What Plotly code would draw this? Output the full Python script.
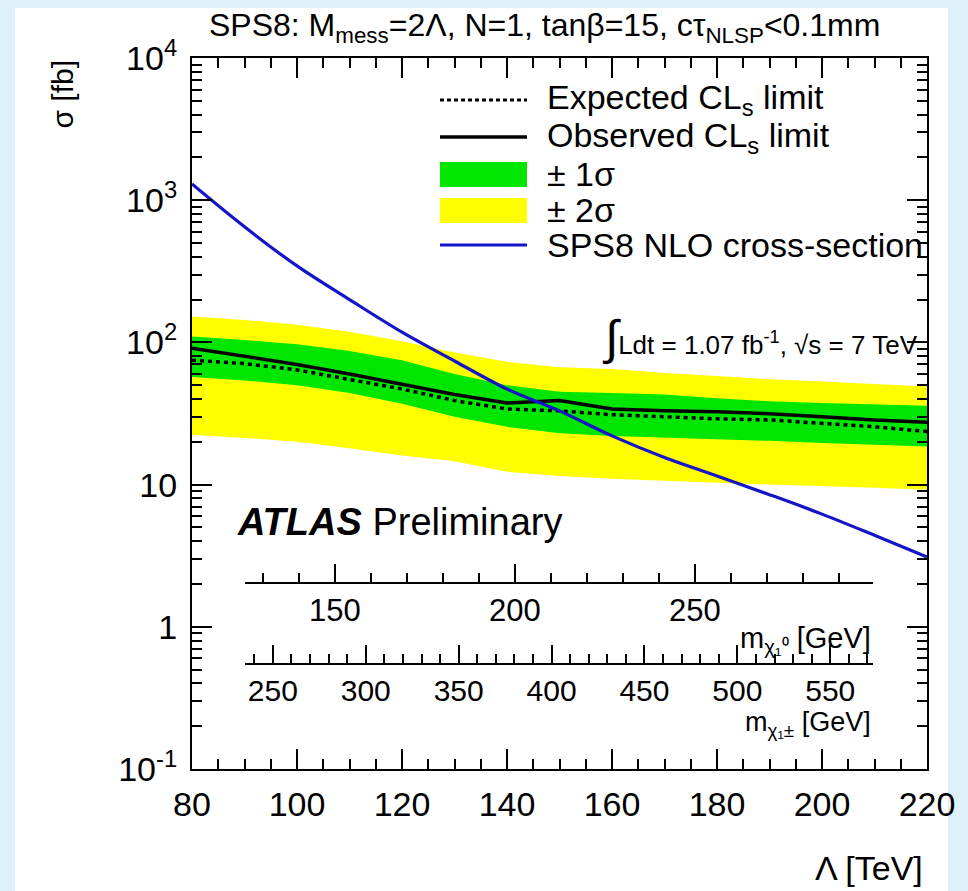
import plotly.graph_objects as go

# ---------------- data ----------------
lam = [80, 90, 100, 110, 120, 130, 140, 150, 160, 170, 180, 190, 200, 210, 220]
nlo_xsec = [1300, 650, 345, 200, 118, 74, 47, 33, 22, 15.5, 11.5, 8.5, 6.2, 4.4, 3.1]
observed = [91, 80, 70, 60, 51, 43, 37.5, 39, 34, 33, 32.5, 31.5, 30, 28.5, 27.5]
expected = [75, 71, 64, 55, 47, 39, 34, 33, 31, 30, 29, 28.5, 27, 25.5, 23.6]
one_sig_up = [110, 104, 97, 87, 75, 60, 50, 45, 44, 43, 40.5, 38.6, 37.5, 36.7, 35.8]
one_sig_dn = [57, 54, 50, 44, 37, 30, 25.5, 23, 22, 21.5, 21, 20.3, 19.6, 19, 18.5]
two_sig_up = [152, 144, 133, 119, 102, 85, 73, 67, 65, 61, 58, 55, 53, 51, 49]
two_sig_dn = [22.4, 21.3, 20, 18, 16, 14.6, 12.3, 11.5, 11, 10.6, 10.3, 10, 9.8, 9.5, 9.2]

x_ticks = [80, 100, 120, 140, 160, 180, 200, 220]
y_ticks = [0.1, 1, 10, 100, 1000, 10000]
y_ticktext = ["10<sup>-1</sup>", "1", "10", "10<sup>2</sup>", "10<sup>3</sup>", "10<sup>4</sup>"]
neut_ticks = [150, 200, 250]
char_ticks = [250, 300, 350, 400, 450, 500, 550]
neut_range = [125, 299.5]
char_range = [235, 573]

# ---------------- layout geometry (pixels) ----------------
W, H = 968, 891
L, R, T, B = 192, 927, 58, 769


def px(x):
    return (x - L) / (R - L)


def py(y):
    return (B - y) / (B - T)


FONT = "Liberation Sans, Arial, Helvetica, sans-serif"
GREEN = "#00e600"
YELLOW = "#ffff00"
BLUE = "#1414c8"

fig = go.Figure()

# +-2 sigma band
fig.add_trace(go.Scatter(x=lam, y=two_sig_dn, mode="lines", line=dict(width=0, color=YELLOW),
                         showlegend=False, hoverinfo="skip"))
fig.add_trace(go.Scatter(x=lam, y=two_sig_up, mode="lines", line=dict(width=0, color=YELLOW),
                         fill="tonexty", fillcolor=YELLOW, showlegend=False, hoverinfo="skip"))
# +-1 sigma band
fig.add_trace(go.Scatter(x=lam, y=one_sig_dn, mode="lines", line=dict(width=0, color=GREEN),
                         showlegend=False, hoverinfo="skip"))
fig.add_trace(go.Scatter(x=lam, y=one_sig_up, mode="lines", line=dict(width=0, color=GREEN),
                         fill="tonexty", fillcolor=GREEN, showlegend=False, hoverinfo="skip"))
# expected
fig.add_trace(go.Scatter(x=lam, y=expected, mode="lines",
                         line=dict(color="black", width=3.5, dash="4px,4px"),
                         showlegend=False, hoverinfo="skip"))
# observed
fig.add_trace(go.Scatter(x=lam, y=observed, mode="lines",
                         line=dict(color="black", width=3.5),
                         showlegend=False, hoverinfo="skip"))
# NLO cross-section
fig.add_trace(go.Scatter(x=lam, y=nlo_xsec, mode="lines", line=dict(color=BLUE, width=3.2, shape="spline"),
                         showlegend=False, hoverinfo="skip"))

# dummy traces to activate the inner mass axes
fig.add_trace(go.Scatter(x=[neut_ticks[0]], y=[None], xaxis="x2", yaxis="y", showlegend=False,
                         hoverinfo="skip", mode="lines"))
fig.add_trace(go.Scatter(x=[char_ticks[0]], y=[None], xaxis="x3", yaxis="y", showlegend=False,
                         hoverinfo="skip", mode="lines"))

axis_common = dict(showgrid=False, zeroline=False, showline=True, linecolor="black", linewidth=2,
                   ticks="inside", tickcolor="black", tickwidth=1.6)

fig.update_layout(
    width=W, height=H, autosize=False,
    margin=dict(l=L, r=W - R, t=T, b=H - B, pad=0),
    paper_bgcolor="rgb(222,240,248)",
    plot_bgcolor="rgba(0,0,0,0)",
    font=dict(family=FONT, color="black"),
    showlegend=False,
    xaxis=dict(range=[80, 220], tickmode="array", tickvals=x_ticks, ticklen=20, mirror="ticks",
               tickfont=dict(size=34), ticklabelstandoff=4,
               minor=dict(dtick=5, tick0=80, ticks="inside", ticklen=10, tickcolor="black",
                          tickwidth=1.6, showgrid=False),
               **axis_common),
    yaxis=dict(type="log", range=[-1, 4], tickmode="array", tickvals=y_ticks, ticktext=y_ticktext,
               ticklen=20, mirror="ticks", tickfont=dict(size=34), ticklabelstandoff=6,
               minor=dict(dtick="D1", ticks="inside", ticklen=10, tickcolor="black",
                          tickwidth=1.6, showgrid=False),
               **axis_common),
    xaxis2=dict(range=neut_range, domain=[px(245), px(873)], anchor="free", position=py(583),
                tickmode="array", tickvals=neut_ticks, ticklen=18, tickfont=dict(size=31),
                ticklabelstandoff=0,
                minor=dict(dtick=10, tick0=0, ticks="inside", ticklen=9, tickcolor="black",
                           tickwidth=1.6, showgrid=False),
                **axis_common),
    xaxis3=dict(range=char_range, domain=[px(245), px(873)], anchor="free", position=py(664),
                tickmode="array", tickvals=char_ticks, ticklen=18, tickfont=dict(size=30),
                ticklabelstandoff=0,
                minor=dict(dtick=10, tick0=0, ticks="inside", ticklen=9, tickcolor="black",
                           tickwidth=1.6, showgrid=False),
                **axis_common),
)

shapes = []
# white panel over the light blue page
shapes.append(dict(type="rect", xref="paper", yref="paper", x0=px(15), x1=px(948), y0=py(891), y1=py(8),
                   fillcolor="white", line=dict(width=0), layer="below"))

# legend symbols
lx0, lx1 = px(440), px(527)
shapes.append(dict(type="line", xref="paper", yref="paper", x0=lx0, x1=lx1, y0=py(100), y1=py(100),
                   line=dict(color="black", width=3, dash="4px,3px")))
shapes.append(dict(type="line", xref="paper", yref="paper", x0=lx0, x1=lx1, y0=py(137), y1=py(137),
                   line=dict(color="black", width=3.5)))
shapes.append(dict(type="rect", xref="paper", yref="paper", x0=lx0, x1=lx1, y0=py(187), y1=py(162),
                   fillcolor=GREEN, line=dict(width=0)))
shapes.append(dict(type="rect", xref="paper", yref="paper", x0=lx0, x1=lx1, y0=py(223), y1=py(198),
                   fillcolor=YELLOW, line=dict(width=0)))
shapes.append(dict(type="line", xref="paper", yref="paper", x0=lx0, x1=lx1, y0=py(245), y1=py(245),
                   line=dict(color=BLUE, width=3.2)))
fig.update_layout(shapes=shapes)


def ann(text, x, y, size, xanchor="left", yanchor="middle", angle=0, family=FONT):
    fig.add_annotation(text=text, x=px(x), y=py(y), xref="paper", yref="paper", showarrow=False,
                       xanchor=xanchor, yanchor=yanchor, textangle=angle,
                       font=dict(size=size, family=family, color="black"))


# legend texts
ann("Expected CL<sub>s</sub> limit", 545, 100, 34)
ann("Observed CL<sub>s</sub> limit", 545, 137, 34)
ann("± 1σ", 545, 174, 34)
ann("± 2σ", 545, 210, 34)
ann("SPS8 NLO cross-section", 545, 245, 34)

# title
ann("SPS8: M<sub>mess</sub>=2Λ, N=1, tanβ=15, cτ<sub>NLSP</sub>&lt;0.1mm", 544, 27, 32, xanchor="center")

# luminosity
ann("<span style='font-size:48px'>∫</span>Ldt = 1.07 fb<sup>-1</sup>, √s = 7 TeV", 600, 338, 26)

# ATLAS Preliminary
ann("<b><i>ATLAS</i></b> Preliminary", 235, 522, 38)

# inner axes titles
ann("m<sub>χ₁⁰</sub> [GeV]", 873, 640, 29, xanchor="right")
ann("m<sub>χ₁±</sub> [GeV]", 873, 724, 27, xanchor="right")

# axis titles
ann("Λ [TeV]", 925, 868, 34, xanchor="right")
ann("σ [fb]", 62, 58, 30, xanchor="center", yanchor="top", angle=-90)

fig.write_html("out.html")
